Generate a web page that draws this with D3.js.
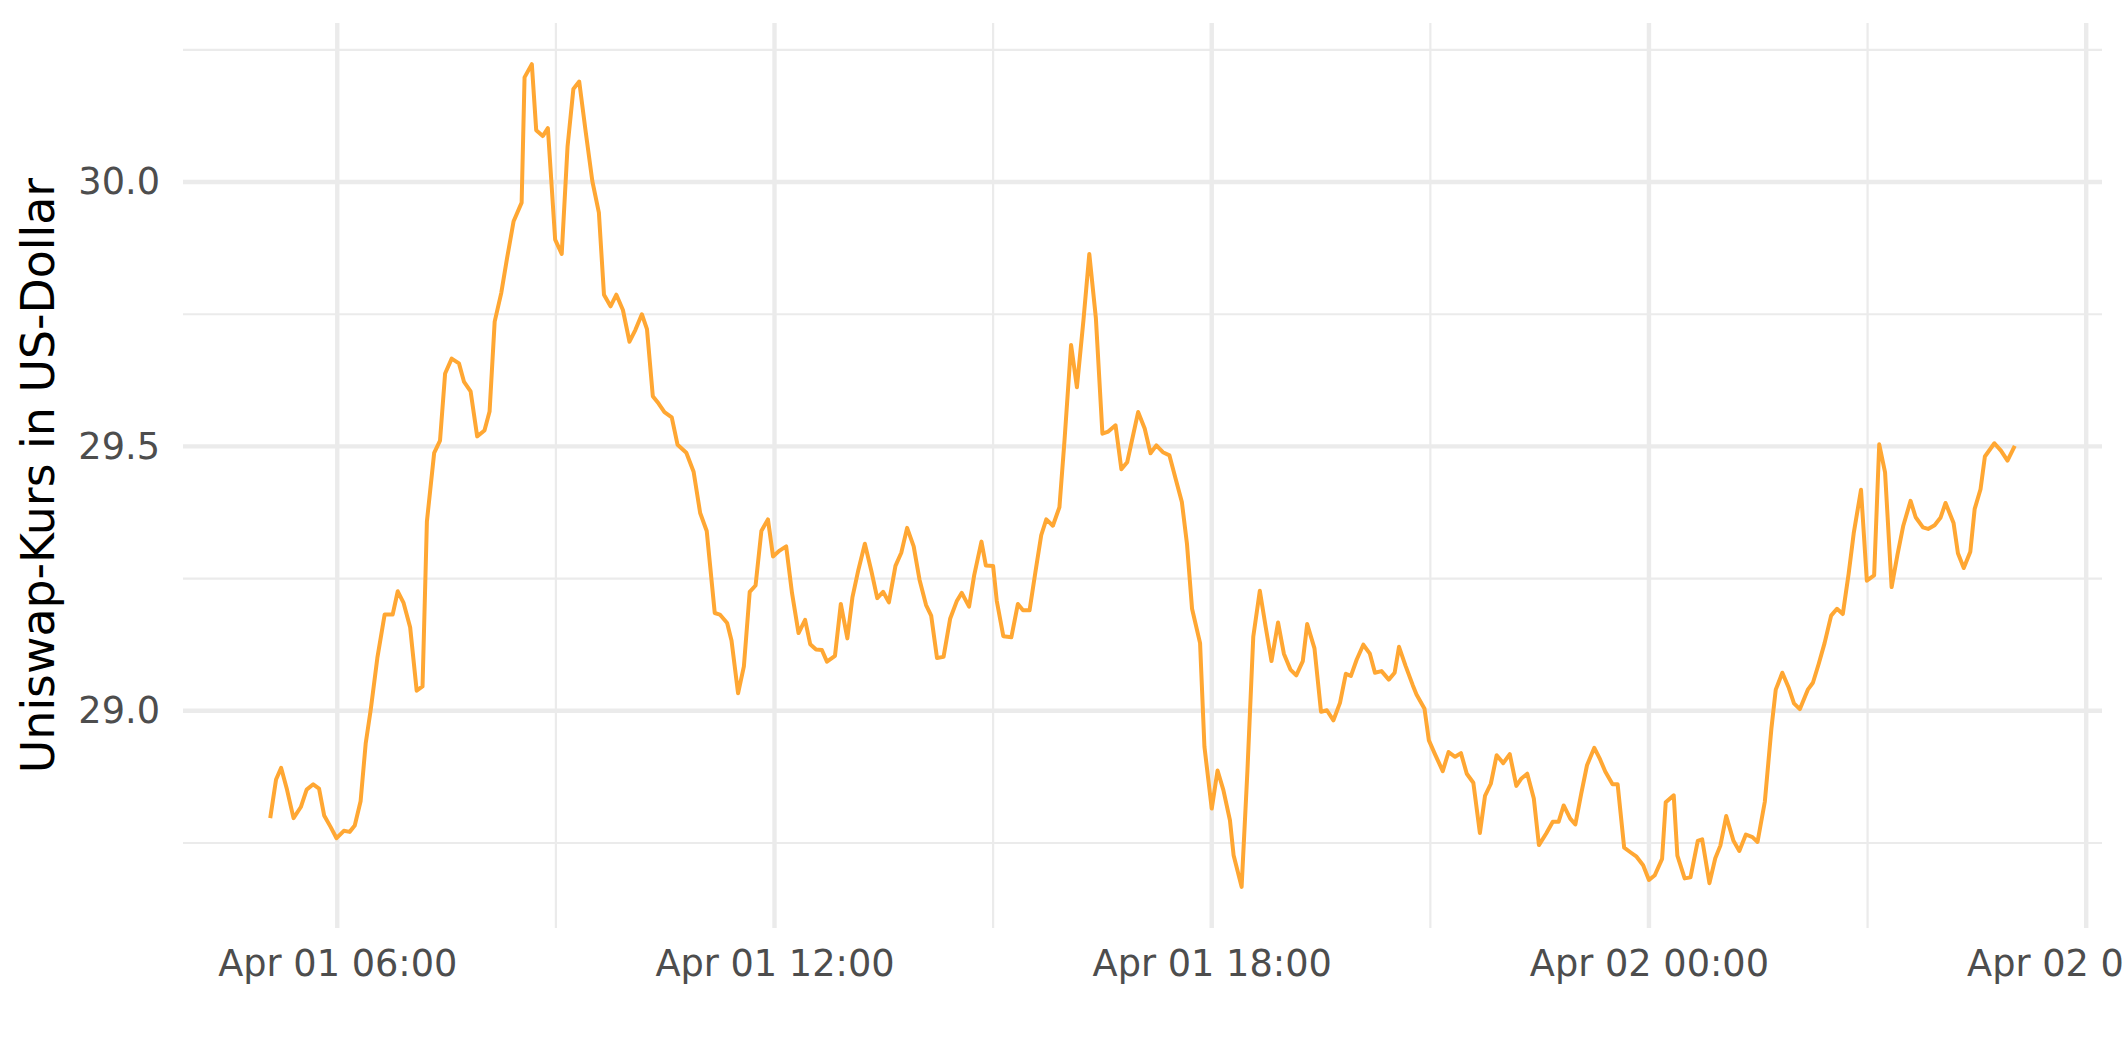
<!DOCTYPE html>
<html>
<head>
<meta charset="utf-8">
<script src="https://cdn.jsdelivr.net/npm/d3@7"></script>
<style>
  body { margin: 0; background: #fff; }
  svg { display: block; font-family: 'DejaVu Sans', sans-serif; }
</style>
</head>
<body>
<div id="chart"></div>
<script>
// Hours since Apr 01 00:00 (UTC), ~5 min steps
var hours = [
  5.08, 5.16, 5.23, 5.31, 5.40, 5.50, 5.58, 5.67, 5.75, 5.82, 5.91, 5.99,
  6.09, 6.17, 6.24, 6.32, 6.39, 6.46, 6.55, 6.65, 6.76, 6.83, 6.91, 7.00,
  7.09, 7.17, 7.23, 7.33, 7.41, 7.48, 7.57, 7.67, 7.74, 7.83, 7.92, 8.02,
  8.09, 8.16, 8.25, 8.33, 8.42, 8.53, 8.57, 8.67, 8.73, 8.82, 8.89, 8.99,
  9.08, 9.16, 9.24, 9.32, 9.41, 9.50, 9.59, 9.66, 9.75, 9.83, 9.92, 10.01,
  10.09, 10.18, 10.25, 10.33, 10.41, 10.49, 10.59, 10.67, 10.79, 10.89, 10.98, 11.07,
  11.18, 11.25, 11.35, 11.41, 11.50, 11.58, 11.66, 11.74, 11.82, 11.91, 11.98, 12.07,
  12.16, 12.24, 12.33, 12.42, 12.49, 12.57, 12.65, 12.72, 12.83, 12.91, 13.00, 13.07,
  13.15, 13.24, 13.33, 13.41, 13.49, 13.57, 13.66, 13.74, 13.82, 13.91, 13.99, 14.08,
  14.15, 14.23, 14.32, 14.41, 14.50, 14.57, 14.67, 14.74, 14.84, 14.90, 15.00, 15.05,
  15.14, 15.25, 15.34, 15.41, 15.50, 15.58, 15.66, 15.73, 15.82, 15.91, 15.98, 16.07,
  16.15, 16.24, 16.32, 16.41, 16.50, 16.58, 16.68, 16.76, 16.84, 16.99, 17.08, 17.16,
  17.24, 17.33, 17.42, 17.51, 17.59, 17.66, 17.73, 17.84, 17.90, 18.00, 18.08, 18.16,
  18.25, 18.30, 18.41, 18.49, 18.57, 18.66, 18.74, 18.82, 18.91, 18.99, 19.08, 19.16,
  19.25, 19.31, 19.41, 19.50, 19.58, 19.67, 19.76, 19.84, 19.91, 19.99, 20.08, 20.17,
  20.24, 20.33, 20.43, 20.51, 20.57, 20.66, 20.76, 20.81, 20.92, 20.98, 21.06, 21.17,
  21.25, 21.34, 21.42, 21.50, 21.59, 21.68, 21.75, 21.83, 21.91, 22.00, 22.09, 22.18,
  22.25, 22.33, 22.42, 22.49, 22.59, 22.68, 22.76, 22.83, 22.92, 22.99, 23.07, 23.15,
  23.25, 23.33, 23.40, 23.50, 23.57, 23.66, 23.75, 23.83, 23.92, 24.00, 24.08, 24.18,
  24.23, 24.34, 24.39, 24.49, 24.57, 24.67, 24.73, 24.83, 24.91, 24.98, 25.06, 25.16,
  25.24, 25.33, 25.42, 25.49, 25.59, 25.68, 25.74, 25.83, 25.92, 25.99, 26.07, 26.18,
  26.25, 26.33, 26.41, 26.50, 26.58, 26.66, 26.74, 26.81, 26.91, 26.99, 27.09, 27.16,
  27.24, 27.33, 27.41, 27.49, 27.59, 27.66, 27.76, 27.83, 27.92, 28.00, 28.07, 28.18,
  28.24, 28.32, 28.41, 28.47, 28.55, 28.61, 28.74, 28.83, 28.92, 29.02
]

// Uniswap price in US dollars
var price = [
  28.797, 28.870, 28.892, 28.851, 28.797, 28.818, 28.851, 28.861, 28.853, 28.802, 28.780, 28.759,
  28.773, 28.771, 28.783, 28.829, 28.938, 29.003, 29.100, 29.182, 29.182, 29.226, 29.204, 29.158,
  29.038, 29.046, 29.358, 29.488, 29.511, 29.638, 29.666, 29.657, 29.622, 29.604, 29.519, 29.530,
  29.566, 29.736, 29.790, 29.856, 29.926, 29.961, 30.198, 30.223, 30.098, 30.087, 30.102, 29.891,
  29.864, 30.067, 30.176, 30.190, 30.094, 30.002, 29.942, 29.787, 29.765, 29.787, 29.758, 29.698,
  29.720, 29.750, 29.722, 29.595, 29.581, 29.565, 29.555, 29.503, 29.488, 29.452, 29.374, 29.340,
  29.185, 29.182, 29.166, 29.133, 29.033, 29.084, 29.225, 29.237, 29.340, 29.362, 29.292, 29.303,
  29.311, 29.223, 29.147, 29.172, 29.126, 29.116, 29.115, 29.093, 29.104, 29.202, 29.137, 29.215,
  29.266, 29.316, 29.264, 29.213, 29.225, 29.205, 29.274, 29.299, 29.346, 29.311, 29.248, 29.200,
  29.180, 29.100, 29.102, 29.174, 29.207, 29.223, 29.197, 29.256, 29.320, 29.275, 29.274, 29.208,
  29.141, 29.139, 29.202, 29.190, 29.190, 29.262, 29.332, 29.362, 29.350, 29.385, 29.512, 29.692,
  29.612, 29.739, 29.864, 29.743, 29.524, 29.528, 29.540, 29.457, 29.470, 29.565, 29.534, 29.487,
  29.502, 29.489, 29.483, 29.436, 29.395, 29.316, 29.193, 29.128, 28.932, 28.815, 28.887, 28.850,
  28.793, 28.727, 28.667, 28.887, 29.140, 29.227, 29.159, 29.094, 29.167, 29.108, 29.078, 29.067,
  29.094, 29.164, 29.118, 28.998, 29.001, 28.982, 29.015, 29.070, 29.066, 29.097, 29.125, 29.108,
  29.072, 29.075, 29.059, 29.072, 29.121, 29.085, 29.048, 29.031, 29.004, 28.944, 28.919, 28.886,
  28.922, 28.913, 28.920, 28.881, 28.864, 28.769, 28.839, 28.862, 28.916, 28.901, 28.918, 28.858,
  28.872, 28.881, 28.834, 28.746, 28.768, 28.790, 28.790, 28.821, 28.796, 28.785, 28.843, 28.897,
  28.930, 28.908, 28.885, 28.861, 28.861, 28.741, 28.732, 28.724, 28.708, 28.680, 28.689, 28.720,
  28.827, 28.840, 28.726, 28.683, 28.685, 28.754, 28.757, 28.674, 28.721, 28.745, 28.801, 28.754,
  28.735, 28.766, 28.761, 28.752, 28.828, 28.966, 29.040, 29.072, 29.043, 29.014, 29.003, 29.040,
  29.053, 29.089, 29.128, 29.180, 29.193, 29.183, 29.259, 29.336, 29.418, 29.246, 29.256, 29.504,
  29.451, 29.234, 29.295, 29.350, 29.397, 29.366, 29.347, 29.344, 29.351, 29.365, 29.393, 29.355,
  29.298, 29.270, 29.301, 29.382, 29.419, 29.481, 29.506, 29.492, 29.473, 29.501
]

var yMajor = [29.0, 29.5, 30.0]
var yMinor = [28.75, 29.25, 29.75, 30.25]
var yTitle = 'Uniswap-Kurs in US-Dollar'

var start = Date.UTC(2021, 3, 1)
var datapoints = hours.map(function(h, i) {
  return { date: new Date(start + h * 3600e3), price: price[i] }
})

// Set up margin/height/width
var margin = { top: 23, left: 183, right: 23, bottom: 134 }
var totalWidth = 2125
var totalHeight = 1062
var width = totalWidth - margin.left - margin.right
var height = totalHeight - margin.top - margin.bottom

var svg = d3
  .select('#chart')
  .append('svg')
  .attr('width', totalWidth)
  .attr('height', totalHeight)

var g = svg
  .append('g')
  .attr('transform', `translate(${margin.left},${margin.top})`)

// ggplot style 5% expansion on both scales
function expand(ext) {
  var pad = (ext[1] - ext[0]) * 0.05
  return [ext[0] - pad, ext[1] + pad]
}

var xExt = d3.extent(datapoints, d => +d.date)
var xPositionScale = d3
  .scaleUtc()
  .domain(expand(xExt).map(d => new Date(d)))
  .range([0, width])

var yPositionScale = d3
  .scaleLinear()
  .domain(expand(d3.extent(price)))
  .range([height, 0])

var xMajor = d3.utcHour.every(6).range(xPositionScale.domain()[0], xPositionScale.domain()[1])
var xMinor = d3.utcHour
  .every(3)
  .range(xPositionScale.domain()[0], xPositionScale.domain()[1])
  .filter(d => d.getUTCHours() % 6 !== 0)

var gridColor = '#ebebeb'

// minor grid
g.selectAll('.x-minor')
  .data(xMinor)
  .enter()
  .append('line')
  .attr('x1', d => xPositionScale(d))
  .attr('x2', d => xPositionScale(d))
  .attr('y1', 0)
  .attr('y2', height)
  .attr('stroke', gridColor)
  .attr('stroke-width', 2.2)

g.selectAll('.y-minor')
  .data(yMinor)
  .enter()
  .append('line')
  .attr('x1', 0)
  .attr('x2', width)
  .attr('y1', d => yPositionScale(d))
  .attr('y2', d => yPositionScale(d))
  .attr('stroke', gridColor)
  .attr('stroke-width', 2.2)

// major grid
g.selectAll('.x-major')
  .data(xMajor)
  .enter()
  .append('line')
  .attr('x1', d => xPositionScale(d))
  .attr('x2', d => xPositionScale(d))
  .attr('y1', 0)
  .attr('y2', height)
  .attr('stroke', gridColor)
  .attr('stroke-width', 4.4)

g.selectAll('.y-major')
  .data(yMajor)
  .enter()
  .append('line')
  .attr('x1', 0)
  .attr('x2', width)
  .attr('y1', d => yPositionScale(d))
  .attr('y2', d => yPositionScale(d))
  .attr('stroke', gridColor)
  .attr('stroke-width', 4.4)

// the price line
var line = d3
  .line()
  .x(d => xPositionScale(d.date))
  .y(d => yPositionScale(d.price))

g.append('path')
  .datum(datapoints)
  .attr('d', line)
  .attr('fill', 'none')
  .attr('stroke', '#ffa733')
  .attr('stroke-width', 4)
  .attr('stroke-linejoin', 'round')

// axes
var xAxis = d3
  .axisBottom(xPositionScale)
  .tickValues(xMajor)
  .tickFormat(d3.utcFormat('%b %d %H:%M'))
  .tickSize(0)
  .tickPadding(22)

g.append('g')
  .attr('class', 'axis x-axis')
  .attr('transform', 'translate(0,' + height + ')')
  .call(xAxis)

var yAxis = d3
  .axisLeft(yPositionScale)
  .tickValues(yMajor)
  .tickFormat(d3.format('.1f'))
  .tickSize(0)
  .tickPadding(23)

g.append('g')
  .attr('class', 'axis y-axis')
  .call(yAxis)

svg.selectAll('.axis .domain').remove()
svg
  .selectAll('.axis text')
  .attr('fill', '#4d4d4d')
  .style('font-size', '36.7px')
  .style('font-family', "'DejaVu Sans', sans-serif")

// y title
svg
  .append('text')
  .attr('transform', `translate(54,${margin.top + height / 2}) rotate(-90)`)
  .attr('text-anchor', 'middle')
  .style('font-size', '45.8px')
  .attr('fill', '#000')
  .text(yTitle)
</script>
</body>
</html>
